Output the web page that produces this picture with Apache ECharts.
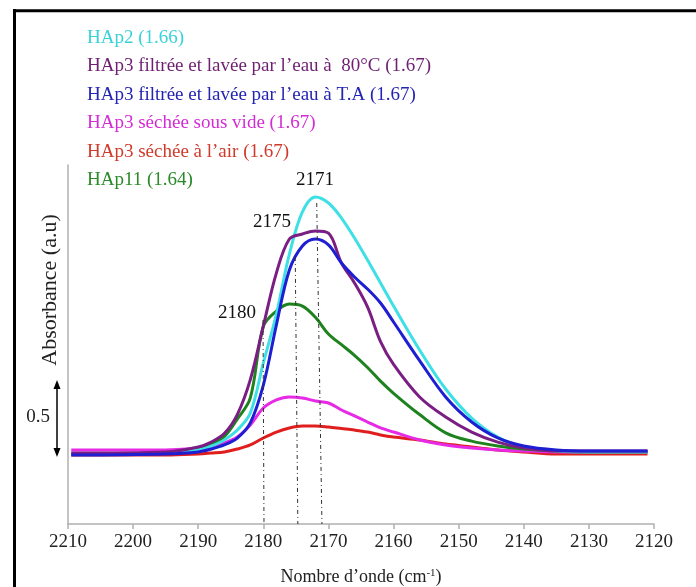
<!DOCTYPE html>
<html><head><meta charset="utf-8">
<script src="https://cdn.jsdelivr.net/npm/echarts@6/dist/echarts.min.js"></script>
<style>html,body{margin:0;padding:0;background:#fff}#c{width:696px;height:587px}</style>
</head><body><div id="c"></div>
<script>
// ---- data ----
const wavenumbers = [2209.5,2195,2190,2188,2186,2184,2182,2180,2178,2176,2174,2172,2170,2168,2166,2164,2162,2160,2156,2152,2148,2144,2140,2135,2130,2121];
const seriesNames = [
  'HAp2 (1.66)',
  'HAp3 filtrée et lavée par l’eau à  80°C (1.67)',
  'HAp3 filtrée et lavée par l’eau à T.A (1.67)',
  'HAp3 séchée sous vide (1.67)',
  'HAp3 séchée à l’air (1.67)',
  'HAp11 (1.64)'
];
const hap2      = [0.461,0.467,0.487,0.513,0.553,0.618,0.730,1.060,1.380,1.776,2.053,2.151,2.112,2.013,1.882,1.737,1.586,1.434,1.145,0.888,0.697,0.572,0.507,0.480,0.474,0.474];
const hap3_80C  = [0.467,0.474,0.507,0.539,0.595,0.720,0.950,1.303,1.651,1.875,1.908,1.928,1.914,1.717,1.586,1.428,1.200,1.050,0.836,0.704,0.605,0.539,0.500,0.480,0.480,0.480];
const hap3_TA   = [0.454,0.461,0.474,0.493,0.520,0.565,0.665,0.914,1.309,1.671,1.829,1.875,1.836,1.717,1.625,1.546,1.454,1.329,1.075,0.836,0.671,0.566,0.513,0.487,0.480,0.480];
const hap3_vide = [0.487,0.487,0.500,0.513,0.533,0.572,0.651,0.763,0.816,0.836,0.829,0.809,0.796,0.750,0.711,0.671,0.632,0.605,0.553,0.520,0.500,0.487,0.480,0.474,0.474,0.474];
const hap3_air  = [0.454,0.454,0.461,0.467,0.474,0.493,0.520,0.566,0.605,0.632,0.645,0.645,0.638,0.628,0.618,0.605,0.586,0.572,0.553,0.526,0.507,0.487,0.474,0.461,0.461,0.461];
const hap11     = [0.461,0.467,0.493,0.526,0.575,0.690,0.830,1.300,1.401,1.447,1.434,1.360,1.250,1.180,1.110,1.030,0.940,0.860,0.720,0.600,0.545,0.513,0.493,0.480,0.474,0.474];
const seriesValues = [hap2, hap3_80C, hap3_TA, hap3_vide, hap3_air, hap11];
const lineColors = ['#3EE0E6','#7A1E84','#1E1ED2','#E62AE6','#E11E1E','#1E821E'];
const legendColors = ['#3AD2D8','#6E1F72','#2424B4','#D42CD4','#D03A2A','#2A8A2A'];
const drawOrder = [4,3,5,0,1,2];
// peak annotations: label, wavenumber at top / bottom of dash-dot line, top absorbance
const peakLabels = ['2171','2175','2180'];
const peakTopX = [2171.8,2175.1,2180.05];
const peakBottomX = [2171.0,2174.7,2179.9];
const peakTopY = [2.112,1.757,1.342];
const peakLabelX = [2172.06,2178.67,2184.04];
const peakLabelY = [2.263,1.987,1.388];
// scale bar (0.5 absorbance units)
const scaleBarFrom = 0.441, scaleBarTo = 0.947, scaleBarText = '0.5';

const FONT = 'Liberation Serif';
const chart = echarts.init(document.getElementById('c'));

const series = drawOrder.map(i => ({
  name: seriesNames[i],
  type: 'line',
  data: wavenumbers.map((w, k) => [w, seriesValues[i][k]]),
  showSymbol: false,
  smooth: 0.35,
  lineStyle: {width: 3, color: lineColors[i]},
  itemStyle: {color: lineColors[i]},
  z: 3,
  silent: true
}));

series.push({
  type: 'line',
  data: [],
  silent: true,
  markLine: {
    silent: true,
    symbol: 'none',
    label: {show: false},
    lineStyle: {type: [4,3,1,3], color: '#333', width: 1},
    data: peakLabels.map((p, i) => [{coord: [peakTopX[i], peakTopY[i]]}, {coord: [peakBottomX[i], 0]}])
  },
  markPoint: {
    silent: true,
    symbol: 'circle',
    symbolSize: 1,
    itemStyle: {color: 'rgba(0,0,0,0)'},
    label: {show: true, position: 'inside', formatter: '{b}', color: '#111', fontSize: 19, fontFamily: FONT},
    data: peakLabels.map((p, i) => ({name: p, coord: [peakLabelX[i], peakLabelY[i]]}))
  }
});

chart.setOption({
  animation: false,
  backgroundColor: '#fff',
  grid: {left: 68, right: 42, top: 165, bottom: 63, outerBoundsMode: 'none', containLabel: false},
  legend: {
    orient: 'vertical',
    left: 77, top: 23,
    icon: 'none',
    itemWidth: 0, itemHeight: 20,
    itemGap: 8.4,
    selectedMode: false,
    textStyle: {fontFamily: FONT, fontSize: 19, lineHeight: 20},
    data: seriesNames.map((n, i) => ({name: n, textStyle: {color: legendColors[i]}}))
  },
  xAxis: {
    type: 'value', min: 2120, max: 2210, interval: 10, inverse: true,
    axisLine: {onZero: false, lineStyle: {color: '#b0b0b0', width: 1.5}},
    axisTick: {show: true, length: 5, lineStyle: {color: '#b0b0b0', width: 1.5}},
    splitLine: {show: false},
    axisLabel: {color: '#222', fontFamily: FONT, fontSize: 19, margin: 9, formatter: v => String(v)},
    name: '{a|Nombre d’onde (cm}{s|-1}{a|)}',
    nameLocation: 'middle', nameGap: 44,
    nameTextStyle: {
      rich: {
        a: {fontFamily: FONT, fontSize: 18, color: '#222'},
        s: {fontFamily: FONT, fontSize: 11, color: '#222', padding: [0,0,8,0]}
      }
    }
  },
  yAxis: {
    type: 'value', min: 0, max: 2.362,
    axisLine: {show: true, onZero: false, lineStyle: {color: '#b0b0b0', width: 1.5}},
    axisTick: {show: false}, axisLabel: {show: false}, splitLine: {show: false},
    name: 'Absorbance (a.u)', nameLocation: 'middle', nameGap: 7,
    nameTextStyle: {fontFamily: FONT, fontSize: 22, color: '#222', padding: [0,0,0,109]}
  },
  series: series
});

// frame and scale bar
const pTop = chart.convertToPixel({gridIndex: 0}, [2210, scaleBarTo]);
const pBot = chart.convertToPixel({gridIndex: 0}, [2210, scaleBarFrom]);
const bx = 57, yt = pTop[1], yb = pBot[1];
chart.setOption({
  graphic: [
    {type: 'line', shape: {x1: 14.5, y1: 9, x2: 14.5, y2: 587}, style: {stroke: '#000', lineWidth: 3}},
    {type: 'line', shape: {x1: 13, y1: 10.7, x2: 696, y2: 10.7}, style: {stroke: '#000', lineWidth: 3}},
    {type: 'line', shape: {x1: bx, y1: yt + 6, x2: bx, y2: yb - 6}, style: {stroke: '#000', lineWidth: 1.5}},
    {type: 'polygon', shape: {points: [[bx, yt], [bx - 3.5, yt + 9], [bx + 3.5, yt + 9]]}, style: {fill: '#000'}},
    {type: 'polygon', shape: {points: [[bx, yb], [bx - 3.5, yb - 9], [bx + 3.5, yb - 9]]}, style: {fill: '#000'}},
    {type: 'text', x: 38, y: (yt + yb) / 2 - 2, style: {text: scaleBarText, fontFamily: FONT, fontSize: 19, fill: '#222', align: 'center', verticalAlign: 'middle'}}
  ]
});
</script></body></html>
